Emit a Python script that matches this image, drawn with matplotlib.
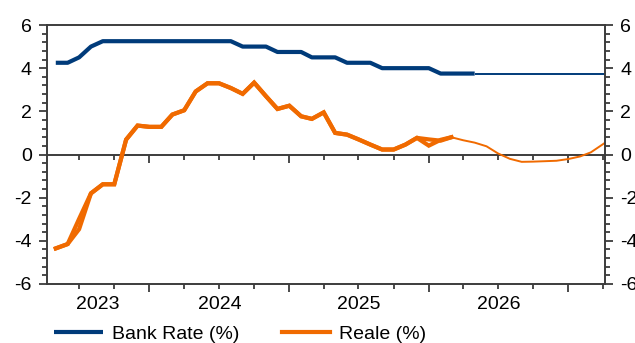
import pandas as pd
import matplotlib
matplotlib.use("Agg")
import matplotlib.pyplot as plt
import matplotlib.dates as mdates
import matplotlib.ticker as mticker

plt.rcParams['font.family'] = ['Liberation Sans', 'DejaVu Sans']
plt.rcParams['axes.unicode_minus'] = False

# Bank Rate, monthly outturns from May 2023
bank_rate_start = '2023-05-01'
bank_rate = [4.25, 4.25, 4.5, 5.0, 5.25, 5.25, 5.25, 5.25, 5.25, 5.25, 5.25, 5.25,
             5.25, 5.25, 5.25, 5.25, 5.0, 5.0, 5.0, 4.75, 4.75, 4.75, 4.5, 4.5,
             4.5, 4.25, 4.25, 4.25, 4.0, 4.0, 4.0, 4.0, 4.0, 3.75, 3.75, 3.75, 3.75]

# Bank Rate path assumed afterwards
bank_fc_start = '2026-05-01'
bank_fc = [3.75] * 13

# real rate (%), two vintages of the monthly series
real_start = '2023-05-01'
real_a = [-4.35, -4.15, -3.46, -1.8, -1.38, -1.38, 0.69, 1.34, 1.28, 1.28, 1.85, 2.05,
          2.92, 3.3, 3.3, 3.08, 2.81, 3.33, 2.7, 2.11, 2.26, 1.77, 1.65, 1.95,
          1.0, 0.92, 0.70, 0.46, 0.23, 0.23, 0.46, 0.77, 0.41, 0.68, 0.80]
real_b = [-4.35, -4.15, -2.98, -1.8, -1.38, -1.38, 0.69, 1.34, 1.28, 1.28, 1.85, 2.05,
          2.92, 3.3, 3.3, 3.08, 2.81, 3.33, 2.7, 2.11, 2.26, 1.77, 1.65, 1.95,
          1.0, 0.92, 0.70, 0.46, 0.23, 0.23, 0.46, 0.77, 0.70, 0.64, 0.80]

# projected real rate
real_fc_start = '2026-03-01'
real_fc = [0.80, 0.66, 0.55, 0.38, 0.05, -0.20, -0.34, -0.33, -0.31, -0.29,
           -0.21, -0.09, 0.10, 0.47, 0.83]

x_start, x_end = '2023-04-08', '2027-04-07'
years = [2023, 2024, 2025, 2026, 2027]

blue = '#003B7A'
orange = '#F06A00'
axis_col = '#3c3c3c'


def months(start, n):
    return mdates.date2num(pd.date_range(start, periods=n, freq='MS'))


fig = plt.figure(figsize=(6.35, 3.43), dpi=100)
ax = fig.add_axes([47 / 635, 1 - 284 / 343, 558 / 635, 259 / 343])

ax.plot(months(bank_fc_start, len(bank_fc)), bank_fc, color=blue, lw=1.4,
        solid_capstyle='butt')
ax.plot(months(real_fc_start, len(real_fc)), real_fc, color=orange, lw=1.4)
ax.plot(months(real_start, len(real_b)), real_b, color=orange, lw=3.0,
        solid_joinstyle='miter')
real_line, = ax.plot(months(real_start, len(real_a)), real_a, color=orange, lw=3.0,
                     solid_joinstyle='miter')
bank_line, = ax.plot(months(bank_rate_start, len(bank_rate)), bank_rate, color=blue,
                     lw=3.0, solid_capstyle='butt')

x0, x1 = mdates.date2num(pd.to_datetime([x_start, x_end]))
ax.set_xlim(x0, x1)
ax.set_ylim(-6, 6)

for s in ax.spines.values():
    s.set_color(axis_col)
    s.set_linewidth(1.4)

ax.yaxis.set_major_locator(mticker.MultipleLocator(2))
ax.yaxis.set_minor_locator(mticker.MultipleLocator(0.4))
ax.yaxis.set_ticks_position('both')
ax.tick_params(axis='y', which='major', direction='out', length=6, width=1.3,
               color=axis_col, labelsize=14, pad=5, labelleft=True, labelright=True)
ax.tick_params(axis='y', which='minor', direction='out', length=3.5, width=1.3,
               color=axis_col)

year_loc = mdates.YearLocator()
qtr_loc = mdates.MonthLocator(bymonth=[4, 7, 10])
ax.xaxis.set_major_locator(year_loc)
ax.xaxis.set_minor_locator(qtr_loc)
ax.tick_params(axis='x', which='major', direction='out', length=6, width=1.3,
               color=axis_col, labelbottom=False)
ax.tick_params(axis='x', which='minor', direction='out', length=3.5, width=1.3,
               color=axis_col)

# zero line carries its own set of date ticks
lo, hi = ax.get_ylim()
zero_ax = ax.secondary_xaxis((0 - lo) / (hi - lo))
zero_ax.set_alignment('bottom')
zero_ax.spines['bottom'].set_color(axis_col)
zero_ax.spines['bottom'].set_linewidth(1.4)
zero_ax.xaxis.set_major_locator(mdates.YearLocator())
zero_ax.xaxis.set_minor_locator(mdates.MonthLocator(bymonth=[4, 7, 10]))
zero_ax.tick_params(axis='x', which='major', direction='out', length=6, width=1.3,
                    color=axis_col, labelbottom=False)
zero_ax.tick_params(axis='x', which='minor', direction='out', length=3.5, width=1.3,
                    color=axis_col)

# year labels centred on the visible part of each year
trans = ax.get_xaxis_transform()
for yr in years:
    a = max(mdates.date2num(pd.Timestamp(f'{yr}-01-01')), x0)
    b = min(mdates.date2num(pd.Timestamp(f'{yr + 1}-01-01')), x1)
    if b - a > 180:
        ax.text((a + b) / 2, -0.045, str(yr), transform=trans, ha='center', va='top',
                fontsize=14)

fig.legend([bank_line, real_line], ['Bank Rate (%)', 'Reale (%)'], loc='center left',
           bbox_to_anchor=(0.058, 0.025), ncol=2, frameon=False, fontsize=14,
           handlelength=2.5, handletextpad=0.45, columnspacing=2.2, borderpad=0.4)

fig.savefig('out.png', dpi=100)
